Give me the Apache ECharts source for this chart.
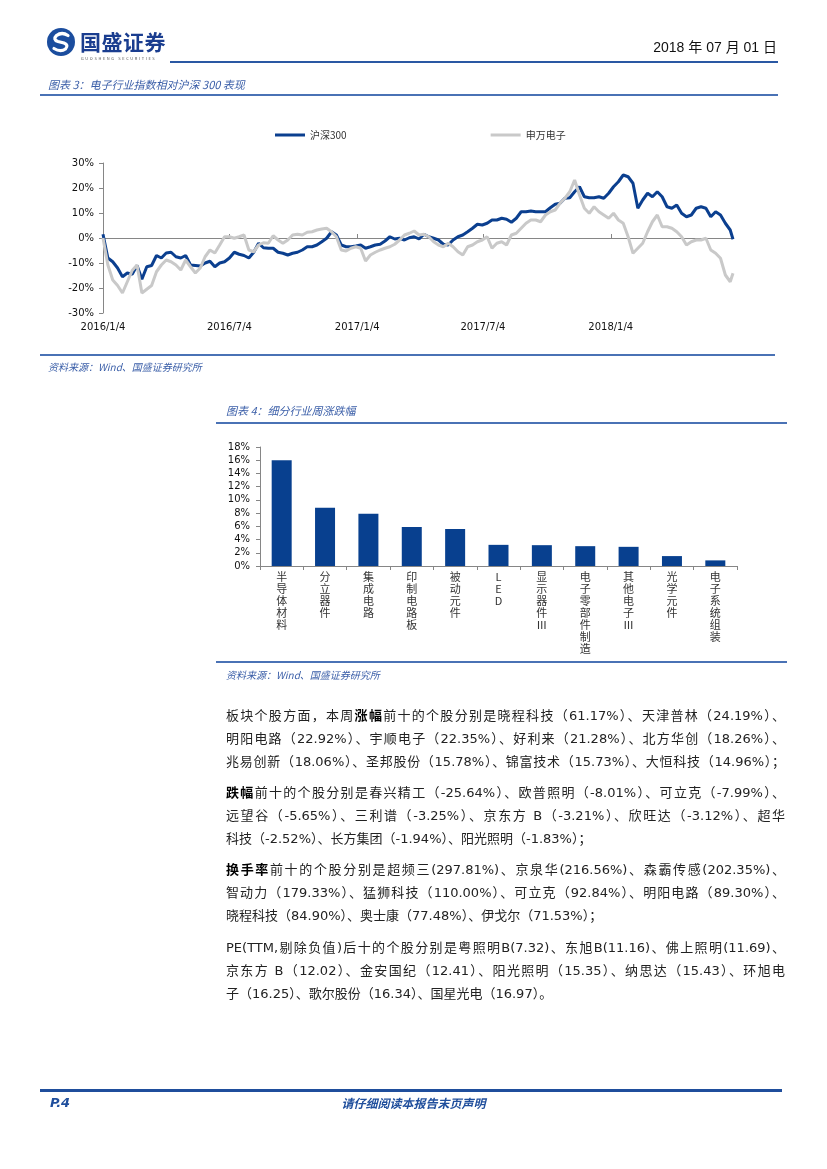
<!DOCTYPE html>
<html>
<head>
<meta charset="utf-8">
<script src="https://cdn.jsdelivr.net/npm/echarts@6/dist/echarts.min.js"></script>
<style>
  html,body{margin:0;padding:0;background:#fff;}
  body{width:827px;height:1169px;position:relative;overflow:hidden;font-family:"Noto Sans CJK SC",sans-serif;}
  #chart{position:absolute;left:0;top:0;width:827px;height:1169px;z-index:1;}
  .t{position:absolute;z-index:2;white-space:nowrap;}
  .rule{position:absolute;z-index:2;background:#4a72b5;}
  .cap{font-style:italic;color:#3a5ea8;font-size:11px;line-height:14px;font-family:"Noto Sans CJK SC",sans-serif;}
  .src{font-style:italic;color:#3a5ea8;font-size:10px;line-height:14px;}
  .body{position:absolute;z-index:2;left:226px;width:559px;font-size:13px;line-height:22px;color:#222;
        font-family:"DejaVu Sans","Noto Sans CJK SC",sans-serif;white-space:nowrap;}
  .j{text-align:justify;text-align-last:justify;}
  .body b{font-weight:bold;color:#000;}
</style>
</head>
<body>
<!-- header -->
<svg class="t" style="left:46px;top:27px" width="30" height="30" viewBox="0 0 30 30">
  <circle cx="15" cy="15" r="14" fill="#1b4d9e"/>
  <path d="M22 8.5 Q16 4.5 10.5 8.5 Q6.5 12.5 12 14.5 L18 16 Q23 18 19.5 22 Q14.5 25.5 8 21.5" stroke="#fff" stroke-width="3.2" fill="none" stroke-linecap="round"/>
</svg>
<div class="t" style="left:80px;top:29px;font-size:21px;line-height:24px;font-weight:bold;color:#1a3d8f;letter-spacing:0.5px;">国盛证券</div>
<div class="t" style="left:81px;top:56px;font-size:4px;line-height:5px;color:#555;letter-spacing:1.6px;">GUOSHENG SECURITIES</div>
<div class="t" style="right:50px;top:38px;font-size:14px;line-height:18px;color:#111;font-family:'Liberation Sans Narrow','Liberation Sans','Noto Sans CJK SC',sans-serif;">2018 年 07 月 01 日</div>
<div class="rule" style="left:170px;top:61px;width:608px;height:2px;background:#2a58a3;"></div>

<div class="t cap" style="left:48px;top:77px;">图表 3：电子行业指数相对沪深 300 表现</div>
<div class="rule" style="left:40px;top:94px;width:738px;height:1.5px;"></div>

<div class="rule" style="left:40px;top:354px;width:735px;height:1.5px;"></div>
<div class="t src" style="left:48px;top:360px;">资料来源：Wind、国盛证券研究所</div>

<div class="t cap" style="left:226px;top:403px;">图表 4：细分行业周涨跌幅</div>
<div class="rule" style="left:216px;top:422px;width:571px;height:1.5px;"></div>

<div class="rule" style="left:216px;top:661px;width:571px;height:1.5px;"></div>
<div class="t src" style="left:226px;top:668px;">资料来源：Wind、国盛证券研究所</div>

<!-- body text -->
<div class="body j" style="top:705px;">板块个股方面，本周<b>涨幅</b>前十的个股分别是晓程科技（61.17%）、天津普林（24.19%）、</div>
<div class="body j" style="top:728px;">明阳电路（22.92%）、宇顺电子（22.35%）、好利来（21.28%）、北方华创（18.26%）、</div>
<div class="body j" style="top:751px;">兆易创新（18.06%）、圣邦股份（15.78%）、锦富技术（15.73%）、大恒科技（14.96%）；</div>

<div class="body j" style="top:782px;"><b>跌幅</b>前十的个股分别是春兴精工（-25.64%）、欧普照明（-8.01%）、可立克（-7.99%）、</div>
<div class="body j" style="top:805px;">远望谷（-5.65%）、三利谱（-3.25%）、京东方 B（-3.21%）、欣旺达（-3.12%）、超华</div>
<div class="body" style="top:828px;">科技（-2.52%）、长方集团（-1.94%）、阳光照明（-1.83%）；</div>

<div class="body j" style="top:859px;"><b>换手率</b>前十的个股分别是超频三(297.81%)、京泉华(216.56%)、森霸传感(202.35%)、</div>
<div class="body j" style="top:882px;">智动力（179.33%）、猛狮科技（110.00%）、可立克（92.84%）、明阳电路（89.30%）、</div>
<div class="body" style="top:905px;">晓程科技（84.90%）、奥士康（77.48%）、伊戈尔（71.53%）；</div>

<div class="body j" style="top:937px;">PE(TTM,剔除负值)后十的个股分别是粤照明B(7.32)、东旭B(11.16)、佛上照明(11.69)、</div>
<div class="body j" style="top:960px;">京东方 B（12.02）、金安国纪（12.41）、阳光照明（15.35）、纳思达（15.43）、环旭电</div>
<div class="body" style="top:983px;">子（16.25）、歌尔股份（16.34）、国星光电（16.97）。</div>

<!-- footer -->
<div class="rule" style="left:40px;top:1089px;width:742px;height:2.5px;background:#1f4e9c;"></div>
<div class="t" style="left:50px;top:1095px;font-size:13px;line-height:16px;font-weight:bold;font-style:italic;color:#1f4e9c;font-family:'DejaVu Sans',sans-serif;">P.4</div>
<div class="t" style="left:0;width:827px;text-align:center;top:1095px;font-size:12px;line-height:16px;font-weight:bold;font-style:italic;color:#1f4e9c;">请仔细阅读本报告末页声明</div>

<div id="chart"></div>
<script>
// ---------- chart 1 data: weekly samples ----------
const weeks = [
"2016-01-04","2016-01-11","2016-01-18","2016-01-25","2016-02-01","2016-02-08","2016-02-15","2016-02-22","2016-02-29","2016-03-07",
"2016-03-14","2016-03-21","2016-03-28","2016-04-04","2016-04-11","2016-04-18","2016-04-25","2016-05-02","2016-05-09","2016-05-16",
"2016-05-23","2016-05-30","2016-06-06","2016-06-13","2016-06-20","2016-06-27","2016-07-04","2016-07-11","2016-07-18","2016-07-25",
"2016-08-01","2016-08-08","2016-08-15","2016-08-22","2016-08-29","2016-09-05","2016-09-12","2016-09-19","2016-09-26","2016-10-03",
"2016-10-10","2016-10-17","2016-10-24","2016-10-31","2016-11-07","2016-11-14","2016-11-21","2016-11-28","2016-12-05","2016-12-12",
"2016-12-19","2016-12-26",
"2017-01-02","2017-01-09","2017-01-16","2017-01-23","2017-01-30","2017-02-06","2017-02-13","2017-02-20","2017-02-27","2017-03-06",
"2017-03-13","2017-03-20","2017-03-27","2017-04-03","2017-04-10","2017-04-17","2017-04-24","2017-05-01","2017-05-08","2017-05-15",
"2017-05-22","2017-05-29","2017-06-05","2017-06-12","2017-06-19","2017-06-26","2017-07-03","2017-07-10","2017-07-17","2017-07-24",
"2017-07-31","2017-08-07","2017-08-14","2017-08-21","2017-08-28","2017-09-04","2017-09-11","2017-09-18","2017-09-25","2017-10-02",
"2017-10-09","2017-10-16","2017-10-23","2017-10-30","2017-11-06","2017-11-13","2017-11-20","2017-11-27","2017-12-04","2017-12-11",
"2017-12-18","2017-12-25",
"2018-01-01","2018-01-08","2018-01-15","2018-01-22","2018-01-29","2018-02-05","2018-02-12","2018-02-19","2018-02-26","2018-03-05",
"2018-03-12","2018-03-19","2018-03-26","2018-04-02","2018-04-09","2018-04-16","2018-04-23","2018-04-30","2018-05-07","2018-05-14",
"2018-05-21","2018-05-28","2018-06-04","2018-06-11","2018-06-18","2018-06-25","2018-06-29"
];
const hs300 = [
1.5,-8,-9.5,-12,-15.5,-14,-14.5,-11,-16.5,-11.5,
-11,-7,-8,-6,-5.7,-7.5,-8,-7,-10.8,-11,
-11.2,-10,-9.3,-11.5,-10,-9.5,-8,-5.7,-6.5,-7,
-8,-5.7,-2.1,-3.9,-4.1,-4.1,-5.7,-6.1,-6.8,-6.1,
-5.7,-4.8,-3.5,-3.5,-2.8,-1.5,-0.1,2.5,1.2,-2.8,
-3.5,-3.5,
-3.2,-2.8,-4.1,-3.5,-2.8,-2.5,-1.2,0.5,-0.4,-0.1,
-0.8,0.1,0.5,-0.4,1.5,0.5,-0.1,-0.8,-2.5,-2.8,
-0.8,0.5,1.2,2.5,3.9,5.5,5.2,5.9,7.2,7.2,
7.9,7.5,6.3,7.9,10.5,10.5,10.8,10.5,10.5,10.5,
12.1,13.5,13.9,15.9,16.1,18.5,20.5,16.5,16.1,16.1,
16.5,15.9,
17.9,20.5,22.5,25.2,24.5,21.9,11.9,15.2,17.9,16.5,
18.5,16.5,12.5,11.9,13.2,9.9,8.5,9.2,11.9,12.5,
11.9,8.5,10.5,9.2,5.9,3.2,-0.5
];
const swElec = [
0,-10.8,-16.8,-19,-22,-17.5,-13,-10.8,-22,-20.5,
-19,-13.5,-10.8,-8.8,-9.5,-10.8,-12.8,-8.8,-11.5,-14,
-12,-7.5,-4.8,-6,-2.8,0.5,0.5,-0.1,0.5,1.2,
-4.8,-5.5,-2.8,-1.9,-2.1,0.9,-0.8,-2.1,-0.8,1.2,
1.5,1.2,2.3,2.5,3.2,3.6,3.9,2.5,0.5,-4.8,
-5.2,-4.1,
-3.5,-4.1,-9.2,-6.8,-5.7,-4.8,-4.1,-3.5,-2.5,-0.8,
1.2,1.9,2.8,1.2,1.5,0.5,-1.5,-2.8,-3.5,-2.1,
-3.5,-5.5,-6.8,-3.5,-2.8,-1.5,-0.8,0.5,-4.1,-2.1,
-1.5,-2.8,1.2,1.9,3.9,5.9,7.2,7.2,6.5,9.2,
10.5,11.2,13.9,15.9,18.5,23.2,17.2,11.9,9.9,12.5,
10.5,9.2,
7.9,9.9,7.2,5.9,0.5,-6.1,-4.1,-2.1,2.5,6.5,
9.2,4.5,4.5,3.9,2.5,0.5,-2.8,-1.5,-0.8,-0.8,
-0.1,-4.8,-6.1,-8.1,-14.8,-17.5,-14.1
];
const lineTickLabels = ["2016-01-04","2016-07-04","2017-01-04","2017-07-04","2018-01-04"];
const seriesNames = ["沪深300","申万电子"];

// ---------- chart 2 data ----------
const industries = ["半导体材料","分立器件","集成电路","印制电路板","被动元件","LED","显示器件Ⅲ","电子零部件制造","其他电子Ⅲ","光学元件","电子系统组装"];
const weeklyChange = [16.0, 8.8, 7.9, 5.9, 5.6, 3.2, 3.15, 3.0, 2.9, 1.5, 0.85];

function ts(s){const p=s.split('-');return new Date(+p[0],+p[1]-1,+p[2]).getTime();}
function fmtDate(v){const d=new Date(v);return d.getFullYear()+'/'+(d.getMonth()+1)+'/'+d.getDate();}

const tickTimes = lineTickLabels.map(ts);
const hsData = weeks.map((w,i)=>[ts(w), hs300[i]]);
const swData = weeks.map((w,i)=>[ts(w), swElec[i]]);

const axisGray = '#868686';
const numFont = 'DejaVu Sans';

const chart = echarts.init(document.getElementById('chart'), null, {renderer:'canvas'});
chart.setOption({
  animation:false,
  backgroundColor:'transparent',
  legend:{
    data:seriesNames, left:270, top:125, icon:'rect', itemWidth:30, itemHeight:3, itemGap:144,
    textStyle:{fontSize:10, color:'#333', fontFamily:'Noto Sans CJK SC'}
  },
  grid:[
    {left:103, top:163, width:630, height:150},
    {left:260, top:447, width:477, height:119}
  ],
  xAxis:[
    {type:'value', gridIndex:0, min:ts(weeks[0]), max:ts(weeks[weeks.length-1]),
     axisLine:{onZero:true, lineStyle:{color:axisGray, width:1}},
     axisTick:{show:true, inside:true, length:4, customValues:tickTimes, lineStyle:{color:axisGray}},
     axisLabel:{customValues:tickTimes, formatter:fmtDate, margin:9, fontSize:10, color:'#111', fontFamily:numFont},
     splitLine:{show:false}},
    {type:'category', gridIndex:1, data:industries,
     axisLine:{lineStyle:{color:axisGray}},
     axisTick:{show:true, length:4, lineStyle:{color:axisGray}},
     axisLabel:{interval:0, margin:5, fontSize:11, lineHeight:12, color:'#333', fontFamily:'Noto Sans CJK SC',
       formatter:function(v){return v.split('').join('\n');}}}
  ],
  yAxis:[
    {type:'value', gridIndex:0, min:-30, max:30, interval:10,
     axisLine:{show:true, lineStyle:{color:axisGray}},
     axisTick:{show:true, length:4, lineStyle:{color:axisGray}},
     splitLine:{show:false},
     axisLabel:{formatter:'{value}%', margin:9, fontSize:10, color:'#111', fontFamily:numFont}},
    {type:'value', gridIndex:1, min:0, max:18, interval:2,
     axisLine:{show:true, lineStyle:{color:axisGray}},
     axisTick:{show:true, length:4, lineStyle:{color:axisGray}},
     splitLine:{show:false},
     axisLabel:{formatter:'{value}%', margin:10, fontSize:10, color:'#111', fontFamily:numFont}}
  ],
  series:[
    {name:seriesNames[0], type:'line', xAxisIndex:0, yAxisIndex:0, data:hsData, showSymbol:false,
     lineStyle:{color:'#0b3f8f', width:3}, itemStyle:{color:'#0b3f8f'}},
    {name:seriesNames[1], type:'line', xAxisIndex:0, yAxisIndex:0, data:swData, showSymbol:false,
     lineStyle:{color:'#c9c9c9', width:3}, itemStyle:{color:'#c9c9c9'}},
    {type:'bar', xAxisIndex:1, yAxisIndex:1, data:weeklyChange, barWidth:20,
     itemStyle:{color:'#08408f'}}
  ]
});
</script>
</body>
</html>
